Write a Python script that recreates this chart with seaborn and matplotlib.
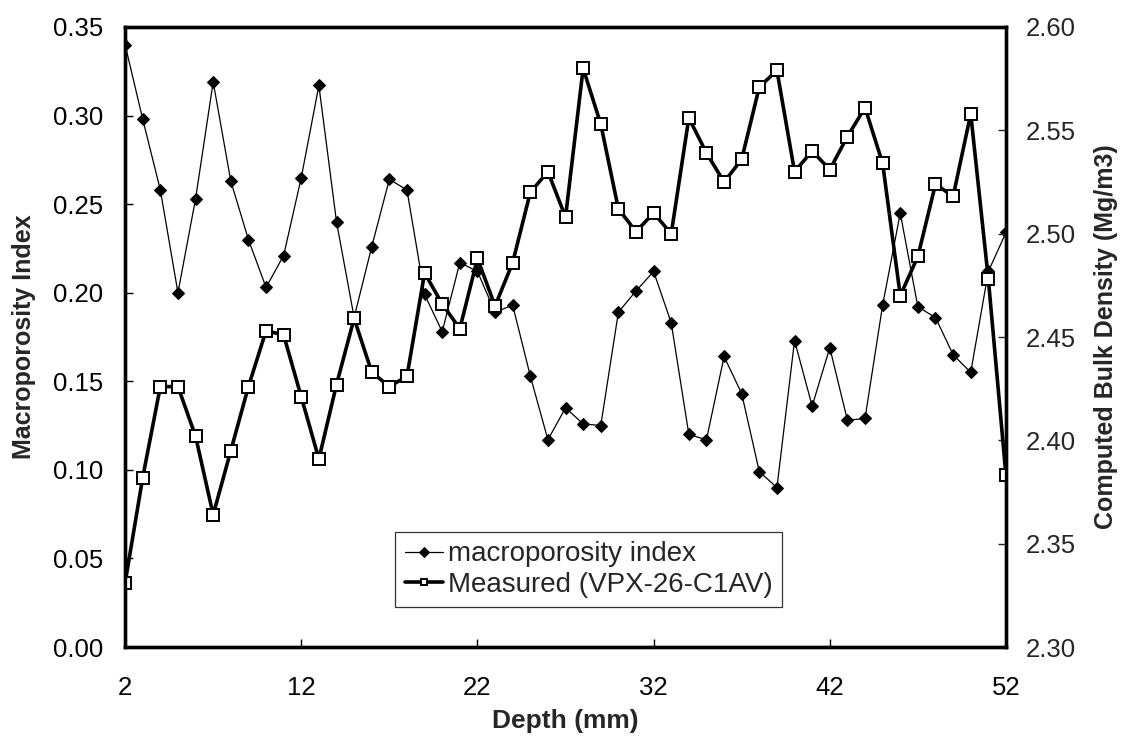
import matplotlib
matplotlib.use("Agg")
import matplotlib.pyplot as plt
import seaborn as sns
import numpy as np
import pandas as pd
from matplotlib.ticker import MultipleLocator, FormatStrFormatter

# Depth profile (mm)
depth = list(range(2, 53))

# Macroporosity index (left axis)
macroporosity = [
    0.340, 0.298, 0.258, 0.200, 0.253, 0.319, 0.263, 0.230, 0.203, 0.221,
    0.265, 0.317, 0.240, 0.186, 0.226, 0.264, 0.258, 0.199, 0.178, 0.217,
    0.212, 0.189, 0.193, 0.153, 0.117, 0.135, 0.126, 0.125, 0.189, 0.201,
    0.212, 0.183, 0.120, 0.117, 0.164, 0.143, 0.099, 0.090, 0.173, 0.136,
    0.169, 0.128, 0.129, 0.193, 0.245, 0.192, 0.186, 0.165, 0.155, 0.212,
    0.234,
]

# Measured bulk density, VPX-26-C1AV (right axis, Mg/m3)
bulk_density = [
    2.331, 2.382, 2.426, 2.426, 2.402, 2.364, 2.395, 2.426, 2.453, 2.451,
    2.421, 2.391, 2.427, 2.459, 2.433, 2.426, 2.431, 2.481, 2.466, 2.454,
    2.488, 2.465, 2.486, 2.520, 2.530, 2.508, 2.580, 2.553, 2.512, 2.501,
    2.510, 2.500, 2.556, 2.539, 2.525, 2.536, 2.571, 2.579, 2.530, 2.540,
    2.531, 2.547, 2.561, 2.534, 2.470, 2.489, 2.524, 2.518, 2.558, 2.478,
    2.383,
]

x_ticks = [2, 12, 22, 32, 42, 52]

sns.set_style("white")
plt.rcParams["font.family"] = ["Liberation Sans", "DejaVu Sans"]

df = pd.DataFrame({"depth": depth, "macro": macroporosity, "bd": bulk_density})

fig = plt.figure(figsize=(11.27, 7.52), dpi=100)
ax = fig.add_axes([0.111, 0.1396, 0.7816, 0.8245])
ax2 = ax.twinx()

sns.lineplot(data=df, x="depth", y="macro", ax=ax, color="black",
             linewidth=0.9, marker="D", markersize=6.5,
             markerfacecolor="black", markeredgecolor="black",
             label="macroporosity index", legend=False)
sns.lineplot(data=df, x="depth", y="bd", ax=ax2, color="black",
             linewidth=2.6, marker="s", markersize=8.2,
             markerfacecolor="white", markeredgecolor="black",
             markeredgewidth=1.4, label="Measured (VPX-26-C1AV)", legend=False)

ax.set_xlim(2, 52)
ax.set_ylim(0.0, 0.35)
ax2.set_ylim(2.30, 2.60)

ax.set_xticks(x_ticks)
ax.yaxis.set_major_locator(MultipleLocator(0.05))
ax.yaxis.set_major_formatter(FormatStrFormatter("%.2f"))
ax2.yaxis.set_major_locator(MultipleLocator(0.05))
ax2.yaxis.set_major_formatter(FormatStrFormatter("%.2f"))

for a in (ax, ax2):
    for s in a.spines.values():
        s.set_linewidth(2.4)
        s.set_color("black")
        s.set_visible(True)

ax.tick_params(axis="both", direction="in", length=6, width=1.0,
               labelsize=18.5, colors="black")
ax.tick_params(axis="x", pad=21, bottom=True)
ax.tick_params(axis="y", pad=16, left=True)
ax2.tick_params(axis="y", direction="in", length=6, width=1.0,
                labelsize=18.5, pad=14, right=True)

ax.set_xlabel("Depth (mm)", fontsize=19, fontweight="bold", labelpad=6)
ax.set_ylabel("Macroporosity Index", fontsize=18, fontweight="bold", labelpad=12)
ax2.set_ylabel("Computed Bulk Density (Mg/m3)", fontsize=18,
               fontweight="bold", labelpad=13)

handles = ax.get_lines()[:1] + ax2.get_lines()[:1]
labels = ["macroporosity index", "Measured (VPX-26-C1AV)"]
leg = ax2.legend(handles, labels, loc="lower center",
                 bbox_to_anchor=(0.526, 0.064), fontsize=20,
                 frameon=True, fancybox=False, shadow=False,
                 handlelength=1.4, handletextpad=0.15, borderpad=0.35,
                 borderaxespad=0, labelspacing=0.15)
leg.get_frame().set_edgecolor("black")
leg.get_frame().set_linewidth(0.9)
for lh in leg.get_lines():
    lh.set_markersize(5)

fig.savefig("out.png", dpi=100, facecolor="white")
